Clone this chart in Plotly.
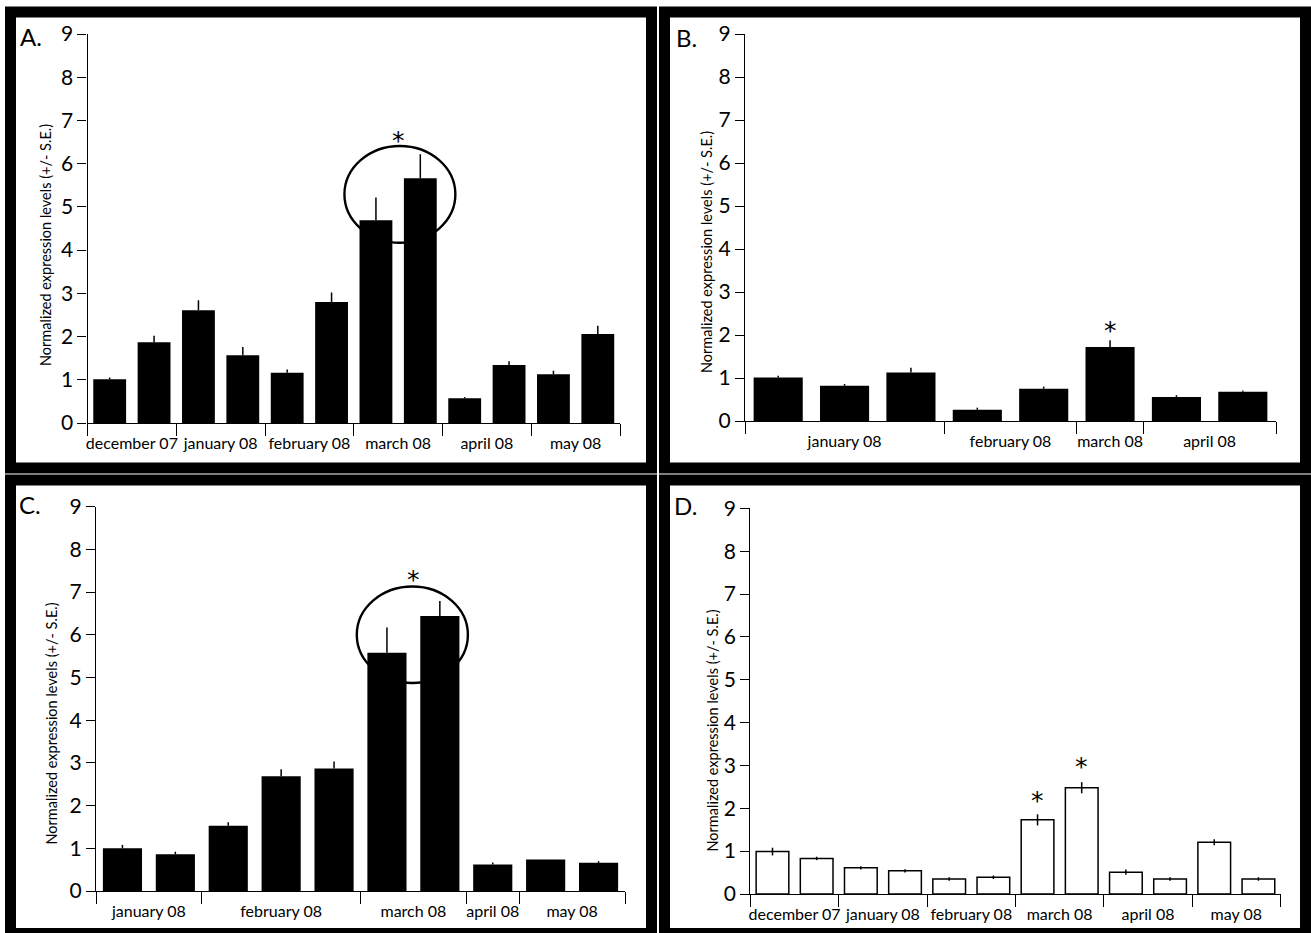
import plotly.graph_objects as go

FONT = "Lato"
STAR_FONT = "DejaVu Sans"
W, H = 1311, 933

# ---------------- data ----------------
a_months = ["december 07", "january 08", "february 08", "march 08", "april 08", "may 08"]
a_group_sizes = [2, 2, 2, 2, 2, 2]
a_values = [1.01, 1.87, 2.61, 1.57, 1.16, 2.80, 4.69, 5.66, 0.57, 1.34, 1.13, 2.06]
a_errors = [0.04, 0.15, 0.23, 0.19, 0.08, 0.22, 0.53, 0.56, 0.03, 0.09, 0.08, 0.19]
a_star_x = [6.5]
a_star_y = [6.62]
a_circle_x = [5.29, 7.79]
a_circle_y = [4.17, 6.41]

b_months = ["january 08", "february 08", "march 08", "april 08"]
b_group_sizes = [3, 2, 1, 2]
b_values = [1.01, 0.82, 1.13, 0.26, 0.75, 1.72, 0.56, 0.68]
b_errors = [0.04, 0.04, 0.11, 0.05, 0.05, 0.16, 0.04, 0.03]
b_star_x = [5]
b_star_y = [2.19]

c_months = ["january 08", "february 08", "march 08", "april 08", "may 08"]
c_group_sizes = [2, 3, 2, 1, 2]
c_values = [1.00, 0.86, 1.53, 2.69, 2.87, 5.58, 6.44, 0.62, 0.74, 0.66]
c_errors = [0.08, 0.06, 0.08, 0.16, 0.16, 0.59, 0.35, 0.05, 0.00, 0.04]
c_star_x = [5.5]
c_star_y = [7.40]
c_circle_x = [4.43, 6.53]
c_circle_y = [4.87, 7.13]

d_months = ["december 07", "january 08", "february 08", "march 08", "april 08", "may 08"]
d_group_sizes = [2, 2, 2, 2, 2, 2]
d_values = [0.99, 0.83, 0.61, 0.54, 0.35, 0.39, 1.73, 2.48, 0.51, 0.35, 1.21, 0.35]
d_errors = [0.09, 0.04, 0.04, 0.04, 0.04, 0.04, 0.13, 0.13, 0.06, 0.04, 0.07, 0.04]
d_star_x = [6, 7]
d_star_y = [2.27, 3.06]

y_ticks = list(range(0, 10))
y_title = "Normalized expression levels (+/- S.E.)"

# ---------------- layout geometry (pixels) ----------------
def px(p):
    return p / W

def py(p):
    return 1 - p / H

panels = [
    dict(key="A", months=a_months, sizes=a_group_sizes, vals=a_values, errs=a_errors,
         sym=False, fill="black", stars=(a_star_x, a_star_y), circle=(a_circle_x, a_circle_y),
         plot_x=(87.5, 620), plot_y=(34, 423), title_xy=(46, 245), label_xy=(31, 36),
         border=(10.5, 651.5, 12, 468)),
    dict(key="B", months=b_months, sizes=b_group_sizes, vals=b_values, errs=b_errors,
         sym=False, fill="black", stars=(b_star_x, b_star_y), circle=None,
         plot_x=(745, 1276), plot_y=(34, 421), title_xy=(707, 252), label_xy=(686.5, 37),
         border=(664.5, 1305.5, 12, 468)),
    dict(key="C", months=c_months, sizes=c_group_sizes, vals=c_values, errs=c_errors,
         sym=False, fill="black", stars=(c_star_x, c_star_y), circle=(c_circle_x, c_circle_y),
         plot_x=(96, 625), plot_y=(506.7, 891), title_xy=(50.5, 724), label_xy=(29.5, 504),
         border=(10.5, 651.5, 480, 933.5)),
    dict(key="D", months=d_months, sizes=d_group_sizes, vals=d_values, errs=d_errors,
         sym=True, fill="white", stars=(d_star_x, d_star_y), circle=None,
         plot_x=(750.4, 1280.5), plot_y=(508.3, 894), title_xy=(711.5, 731), label_xy=(685.5, 505.5),
         border=(664.5, 1305.5, 480, 933.5)),
]

fig = go.Figure()
layout = dict(
    template="none",
    width=W, height=H, margin=dict(l=0, r=0, t=0, b=0, pad=0, autoexpand=False),
    paper_bgcolor="white", plot_bgcolor="rgba(0,0,0,0)",
    showlegend=False, font=dict(family=FONT, color="black"),
)
shapes = []
annotations = []

for i, p in enumerate(panels):
    n = len(p["vals"])
    xs = list(range(n))
    sfx = "" if i == 0 else str(i + 1)
    xa, ya = "x" + sfx, "y" + sfx

    # group boundaries & label centers from the group sizes
    bounds = [-0.5]
    for s in p["sizes"]:
        bounds.append(bounds[-1] + s)
    centers = [(bounds[k] + bounds[k + 1]) / 2 for k in range(len(p["sizes"]))]

    err = dict(type="data", array=p["errs"], width=0, thickness=1.5, color="black")
    if p["sym"]:
        err["symmetric"] = True
    else:
        err["symmetric"] = False
        err["arrayminus"] = [0] * n

    fig.add_trace(go.Bar(
        x=xs, y=p["vals"], width=0.74, xaxis=xa, yaxis=ya,
        marker=dict(color=p["fill"], line=dict(color="black", width=1.5 if p["fill"] == "white" else 0)),
        error_y=err, hoverinfo="skip",
    ))

    layout["xaxis" + sfx] = dict(
        domain=[px(p["plot_x"][0]), px(p["plot_x"][1])], anchor=ya, automargin=False,
        range=[-0.5, n - 0.5], showline=True, linecolor="black", linewidth=1.3,
        showgrid=False, zeroline=False, fixedrange=True,
        tickmode="array", tickvals=centers, ticktext=p["months"],
        ticks="outside", ticklen=6, tickcolor="rgba(0,0,0,0)",
        tickfont=dict(family=FONT, size=16, color="black"),
        minor=dict(tickmode="array", tickvals=bounds, ticks="outside", ticklen=12,
                   tickwidth=1.3, tickcolor="black", showgrid=False),
    )
    layout["yaxis" + sfx] = dict(
        domain=[py(p["plot_y"][1]), py(p["plot_y"][0])], anchor=xa, automargin=False,
        range=[0, 9], showline=True, linecolor="black", linewidth=1.3,
        showgrid=False, zeroline=False, fixedrange=True,
        tickmode="array", tickvals=y_ticks, ticks="outside", ticklen=9,
        tickwidth=1.3, tickcolor="black",
        tickfont=dict(family=FONT, size=21, color="black"),
    )
    layout["yaxis" + str(i + 5)] = dict(
        overlaying=ya, anchor=xa, side="left", range=[0, 9], showline=False, automargin=False,
        showgrid=False, zeroline=False, fixedrange=True,
        tickmode="array", tickvals=y_ticks, ticks="inside", ticklen=6,
        tickwidth=1.3, tickcolor="black", showticklabels=False,
    )

    # circle highlight
    if p["circle"] is not None:
        cx, cy = p["circle"]
        shapes.append(dict(type="circle", xref=xa, yref=ya, x0=cx[0], x1=cx[1], y0=cy[0], y1=cy[1],
                           line=dict(color="black", width=2.4), layer="below"))
    # asterisks
    for sx, sy in zip(*p["stars"]):
        annotations.append(dict(x=sx, y=sy, xref=xa, yref=ya, text="*", showarrow=False,
                                font=dict(family=STAR_FONT, size=25, color="black"),
                                xanchor="center", yanchor="middle", yshift=-4))
    # y title
    tx, ty = p["title_xy"]
    annotations.append(dict(x=px(tx), y=py(ty), xref="paper", yref="paper", text=y_title,
                            textangle=-90, showarrow=False,
                            font=dict(family=FONT, size=14.5, color="black"),
                            xanchor="center", yanchor="middle"))
    # panel letter
    lx, ly = p["label_xy"]
    annotations.append(dict(x=px(lx), y=py(ly), xref="paper", yref="paper", text=p["key"] + ".",
                            showarrow=False, font=dict(family=FONT, size=24, color="black"),
                            xanchor="center", yanchor="middle"))
    # thick panel border
    bx0, bx1, by0, by1 = p["border"]
    shapes.append(dict(type="rect", xref="paper", yref="paper",
                       x0=px(bx0), x1=px(bx1), y0=py(by1), y1=py(by0),
                       line=dict(color="black", width=11), fillcolor="rgba(0,0,0,0)", layer="above"))

layout["shapes"] = shapes
layout["annotations"] = annotations
fig.update_layout(**layout)
fig.write_html("out.html")
